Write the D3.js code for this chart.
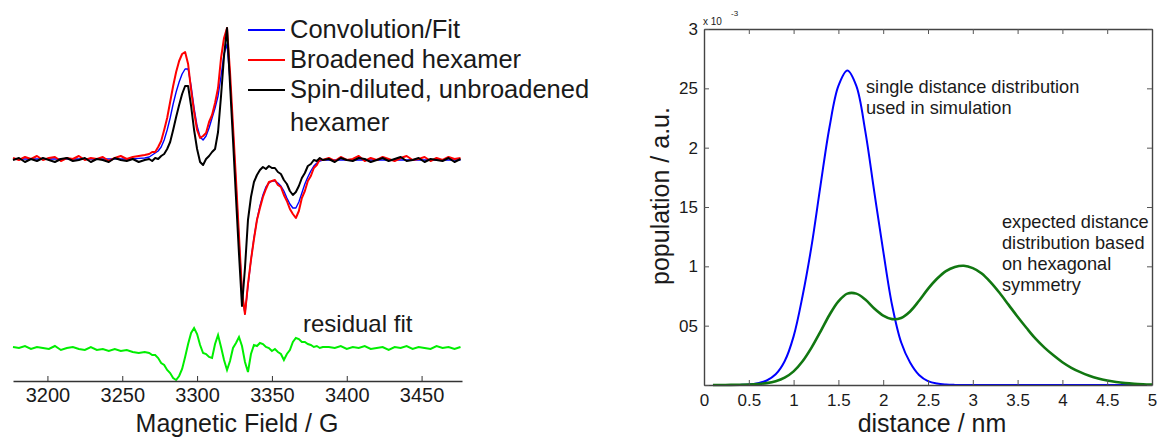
<!DOCTYPE html>
<html>
<head>
<meta charset="utf-8">
<script src="https://d3js.org/d3.v7.min.js"></script>
<style>
  body { margin: 0; background: #fff; }
  text { font-family: "Liberation Sans", Arial, Helvetica, sans-serif; fill: #1a1a1a; }
</style>
</head>
<body>
<svg id="chart" width="1157" height="437"></svg>

<script>
	// ---- left panel: EPR spectra (intensity in arbitrary units) ----
	var field = [3177,3181,3185,3189,3193,3197,3201,3205,3209,3213,3217,3221,3225,3229,3233,3237,3241,3245,3249,3253,3257,3261,3265,
		3268,3270,3272,3274,3276,3278,3280,3282,3284,3286,3288,3290,3292,3294,3296,3298,3300,3302,3304,3306,3308,3310,
		3312,3314,3316,3318,3320,3322,3324,3326,3328,3330,3332,3334,3336,3338,3340,3342,3344,3346,3348,3350,3352,3354,
		3356,3358,3360,3362,3364,3366,3368,3370,3372,3374,3376,3378,3380,3382,3384,
		3388,3392,3396,3400,3404,3408,3412,3416,3420,3424,3428,3432,3436,3440,3444,3448,3452,3456,3460,3464,3468,3472,3476];

	var convFit = [0.5,0.5,0.5,0.5,0.5,0.5,0.5,0.5,0.5,0.5,0.5,0.5,0.5,0.5,0.5,0.5,0.5,0.5,0.5,0.5,0.5,0.8,1,
		1.5,2.5,3.5,4.5,6.5,10,15,21,28,34,39,43,45.5,45.5,37,26,17,11.5,10,12,16,21,
		26,32,42,53,58,40,15,-12,-40,-66,-77,-63,-50,-39,-30,-23,-17.5,-13.5,-11.5,-10.5,-10.5,-11.5,
		-13,-15.5,-19,-22,-24,-24,-21,-16.5,-12,-8.5,-5.5,-3,-1.5,-0.5,0,
		0,0,0,0,0,0,0,0,0,0,0,0,0,0,0,0,0,0,0,0,0,0,0];

	var broadened = [1,0,1.5,0.5,2,0,1,1.5,-0.5,1,0.5,2,0,1,0.5,1.5,-0.5,1,2,0.5,1.5,2,2.5,
		3,4,4,6.5,9.5,15,21,29,37,44,49.5,53,54,48,35,24,15,11,12,13.5,19,22.5,
		28.5,36,51,61,66,44,17,-10,-38,-66,-77,-62,-50,-39.5,-30,-24,-18.5,-14.5,-11,-10.5,-10,-12.5,
		-13.5,-17.5,-20.5,-24.5,-27,-29,-25.5,-19,-15.5,-10.5,-8,-4,-2.5,0.5,0,
		1,-0.5,1.5,0,0.5,2,-0.5,1,0,1.5,0.5,-0.5,1,2,0,0.5,1.5,-0.5,1,0,1.5,0.5,1];

	var spinDiluted = [0,1,-1,0.5,-0.5,1,0,-1,0.5,1,-0.5,0,1,-1,0.5,0,-1,1,0,-0.5,0.5,-1,0,
		0.5,-0.5,1,0.5,2,3,5.5,9,15,21.5,27.5,33,37,37,27,15,5.5,-1,-2.5,0.5,2,4,
		5.5,14,32,52,66,38,10,-19,-47,-73,-54,-30,-18.5,-11,-7.5,-5,-3.5,-4.5,-3,-4,-4,-6,
		-7,-10,-12,-15.5,-17.5,-16,-13,-9,-6.5,-3,-2,0,-0.5,1,0,
		0.5,-1,1,0,-0.5,1,0.5,-1,0,1,-0.5,0.5,1.5,-0.5,0,1,-1,0.5,0,-0.5,1,-1,0.5];

	var residual = [0.5,0,1,-0.5,0.5,0,-0.5,1,-1,0,0.5,-0.5,-1,0.5,-1,-0.5,-1.5,-0.5,-1.5,-1,-2,-2.5,-2,
		-2.5,-3.5,-3.5,-5,-7.5,-8.5,-11,-12.5,-15,-16,-14,-10.5,-4.5,2,7.5,10,7,1.5,-2.5,-3,-4.5,-5,
		2,6.5,0.5,-6,-11,-6.5,0,2.5,5.5,1,-7,-12,-3,1.5,1,2.5,2,0.5,0,-1.5,-0.5,-2,
		-3,-6,-3,-1,3,5,4.5,3,3,2,1.5,0.5,1,0,0.5,
		0.5,0,1,-0.5,0.5,0,1,-0.5,0,0.5,-1,0.5,0,1,-0.5,0.5,0,-0.5,1,0,0.5,-0.5,0.5];

	var fieldTicks = [3200, 3250, 3300, 3350, 3400, 3450];
	var legendNames = ["Convolution/Fit", "Broadened hexamer", "Spin-diluted, unbroadened", "hexamer"];

	// ---- right panel: distance distributions ----
	var distance = [0.1,0.2,0.3,0.4,0.5,0.6,0.7,0.8,0.9,1.0,1.1,1.2,1.3,1.4,1.5,1.6,1.7,1.8,1.9,2.0,
		2.1,2.2,2.3,2.4,2.5,2.6,2.7,2.8,2.9,3.0,3.1,3.2,3.3,3.4,3.5,3.6,3.7,3.8,3.9,4.0,
		4.1,4.2,4.3,4.4,4.5,4.6,4.7,4.8,4.9,5.0];

	var singleDist = [0,0,0,0.001,0.004,0.015,0.038,0.09,0.2,0.41,0.75,1.17,1.68,2.17,2.52,2.65,2.52,2.14,1.63,1.13,
		0.67,0.36,0.19,0.085,0.033,0.012,0.004,0.001,0,0,0,0,0,0,0,0,0,0,0,0,
		0,0,0,0,0,0,0,0,0,0];

	var hexDist = [0,0,0.001,0.002,0.004,0.008,0.016,0.032,0.062,0.115,0.2,0.315,0.45,0.59,0.705,0.77,0.77,0.72,0.645,0.585,
		0.555,0.565,0.62,0.71,0.81,0.895,0.96,0.995,1.005,0.985,0.94,0.865,0.775,0.675,0.575,0.48,0.39,0.315,0.25,0.192,
		0.145,0.108,0.078,0.055,0.038,0.025,0.016,0.01,0.006,0.003];

	var distTicks = [0, 0.5, 1, 1.5, 2, 2.5, 3, 3.5, 4, 4.5, 5];
	var distTickLabels = ["0", "0.5", "1", "1.5", "2", "2.5", "3", "3.5", "4", "4.5", "5"];
	var popTicks = [0, 0.5, 1, 1.5, 2, 2.5, 3];
	var popTickLabels = ["", "05", "1", "15", "2", "25", "3"];

	var svg = d3.select("#chart");

	// ================= left panel =================
	var xL = d3.scaleLinear().domain([3177, 3477]).range([13, 462]);
	var yL = d3.scaleLinear().domain([-110.5, 80]).range([381, 0]);
	var residualShift = -94;   // residual trace is drawn below the spectra

	var specLine = function(values, shift) {
		return d3.line()
			.x(function(d, i) { return xL(field[i]); })
			.y(function(d) { return yL(d + shift); })(values);
	};

	var spectra = [
		{ values: convFit, color: "#0000ff", width: 1.4 },
		{ values: broadened, color: "#ff0000", width: 2 },
		{ values: spinDiluted, color: "#000000", width: 2 }
	];

	svg.append("path")
		.attr("d", specLine(residual, residualShift))
		.attr("fill", "none")
		.attr("stroke", "#00ee00")
		.attr("stroke-width", 2);

	spectra.forEach(function(s) {
		svg.append("path")
			.attr("d", specLine(s.values, 0))
			.attr("fill", "none")
			.attr("stroke", s.color)
			.attr("stroke-width", s.width)
			.attr("stroke-linejoin", "round");
	});

	// X axis of the left panel
	var axL = svg.append("g")
		.attr("transform", "translate(0,381)")
		.call(d3.axisBottom(xL)
			.tickValues(fieldTicks)
			.tickFormat(d3.format("d"))
			.tickSizeInner(-5)
			.tickSizeOuter(0)
			.tickPadding(7));
	axL.select(".domain").attr("stroke", "#333").attr("stroke-width", 1.3);
	axL.selectAll(".tick line").attr("stroke", "#333");
	axL.selectAll("text").attr("font-size", 20).attr("font-family", null);

	svg.append("text")
		.attr("x", 237).attr("y", 432)
		.attr("text-anchor", "middle")
		.attr("font-size", 25)
		.text("Magnetic Field / G");

	// legend
	var legColors = ["#0000ff", "#ff0000", "#000000"];
	legColors.forEach(function(c, i) {
		svg.append("line")
			.attr("x1", 248).attr("x2", 285)
			.attr("y1", 30 + i * 30).attr("y2", 30 + i * 30)
			.attr("stroke", c).attr("stroke-width", 2);
	});
	var legBase = [38, 68, 98, 131];
	legendNames.forEach(function(n, i) {
		svg.append("text")
			.attr("x", 290).attr("y", legBase[i])
			.attr("font-size", 25.5)
			.text(n);
	});

	svg.append("text")
		.attr("x", 303).attr("y", 332)
		.attr("font-size", 24)
		.text("residual fit");

	// ================= right panel =================
	var xR = d3.scaleLinear().domain([0, 5]).range([704, 1152]);
	var yR = d3.scaleLinear().domain([0, 3]).range([385, 29]);

	var distLine = function(values) {
		return d3.line()
			.curve(d3.curveCatmullRom.alpha(0.5))
			.x(function(d, i) { return xR(distance[i]); })
			.y(function(d) { return yR(d); })(values);
	};

	svg.append("path")
		.attr("d", distLine(singleDist))
		.attr("fill", "none")
		.attr("stroke", "#0000ff")
		.attr("stroke-width", 2);

	svg.append("path")
		.attr("d", distLine(hexDist))
		.attr("fill", "none")
		.attr("stroke", "#117711")
		.attr("stroke-width", 2.6);

	// box axes, ticks pointing inward
	var axB = svg.append("g").attr("transform", "translate(0,385)")
		.call(d3.axisBottom(xR).tickValues(distTicks)
			.tickFormat(function(d, i) { return distTickLabels[i]; })
			.tickSizeInner(-5).tickSizeOuter(0).tickPadding(9));
	var axT = svg.append("g").attr("transform", "translate(0,29)")
		.call(d3.axisTop(xR).tickValues(distTicks).tickFormat("")
			.tickSizeInner(-5).tickSizeOuter(0));
	var axLft = svg.append("g").attr("transform", "translate(704,0)")
		.call(d3.axisLeft(yR).tickValues(popTicks)
			.tickFormat(function(d, i) { return popTickLabels[i]; })
			.tickSizeInner(-5).tickSizeOuter(0).tickPadding(6));
	var axRt = svg.append("g").attr("transform", "translate(1152,0)")
		.call(d3.axisRight(yR).tickValues(popTicks).tickFormat("")
			.tickSizeInner(-5).tickSizeOuter(0));

	[axB, axT, axLft, axRt].forEach(function(a) {
		a.select(".domain").attr("stroke", "#444").attr("stroke-width", 1.4);
		a.selectAll(".tick line").attr("stroke", "#555");
		a.selectAll("text").attr("font-size", 17).attr("font-family", null);
	});

	svg.append("text")
		.attr("x", 703).attr("y", 25)
		.attr("font-size", 10)
		.attr("fill", "#444")
		.text("x 10");
	svg.append("text")
		.attr("x", 731).attr("y", 16)
		.attr("font-size", 8)
		.attr("fill", "#444")
		.text("-3");

	svg.append("text")
		.attr("x", 932).attr("y", 432)
		.attr("text-anchor", "middle")
		.attr("font-size", 25)
		.text("distance / nm");

	svg.append("text")
		.attr("transform", "translate(669,196) rotate(-90)")
		.attr("text-anchor", "middle")
		.attr("font-size", 25)
		.text("population / a.u.");

	// annotations
	var noteSingle = ["single distance distribution", "used in simulation"];
	noteSingle.forEach(function(t, i) {
		svg.append("text")
			.attr("x", 866).attr("y", 93 + i * 20.5)
			.attr("font-size", 18.2)
			.text(t);
	});
	var noteHex = ["expected distance", "distribution based", "on hexagonal", "symmetry"];
	noteHex.forEach(function(t, i) {
		svg.append("text")
			.attr("x", 1002).attr("y", 228 + i * 21)
			.attr("font-size", 18.2)
			.text(t);
	});
</script>
</body>
</html>
